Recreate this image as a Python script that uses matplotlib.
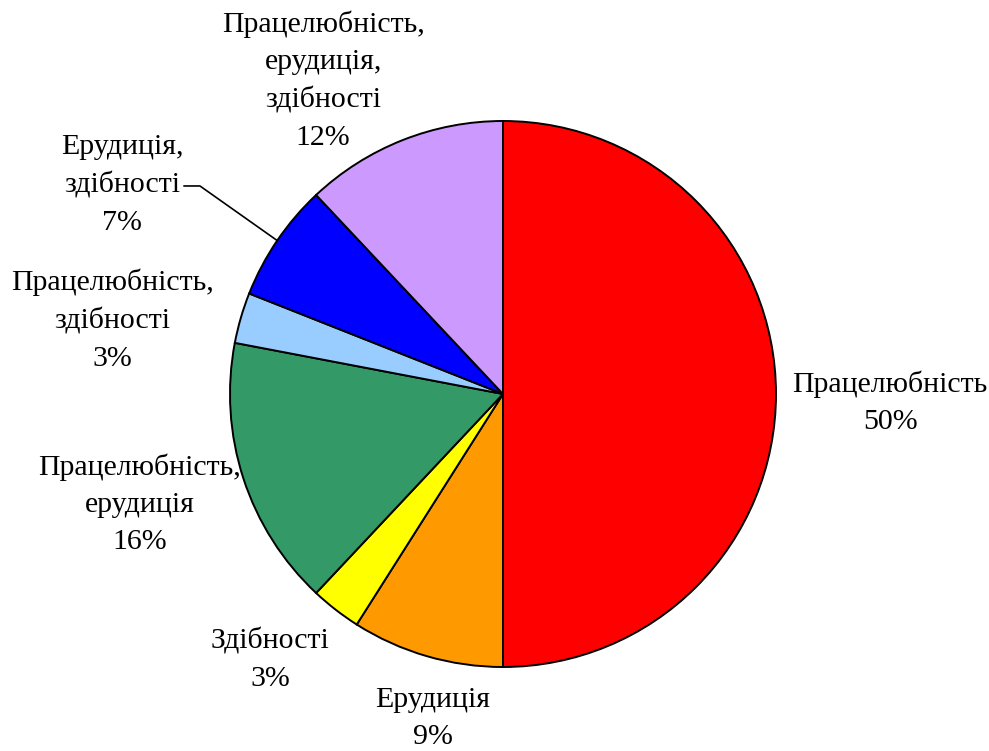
import numpy as np
import matplotlib.pyplot as plt

plt.rcParams['font.family'] = ['Liberation Serif', 'DejaVu Serif']

# Slices, clockwise from 12 o'clock
labels = ['Працелюбність', 'Ерудиція', 'Здібності', 'Працелюбність,\nерудиція',
          'Працелюбність,\nздібності', 'Ерудиція,\nздібності',
          'Працелюбність,\nерудиція,\nздібності']
values = [50, 9, 3, 16, 3, 7, 12]
colors = ['#FF0000', '#FF9900', '#FFFF00', '#339966', '#99CCFF', '#0000FF', '#CC99FF']

# label centres (x, y) in units of pie radius
label_pos = [(1.418, -0.033), (-0.256, -1.19), (-0.853, -0.974), (-1.33, -0.403),
             (-1.432, 0.27), (-1.396, 0.766), (-0.659, 1.147)]

W, H = 989, 751
cx, cy, r = 503, 394, 273

fig = plt.figure(figsize=(W / 100, H / 100), dpi=100)
ax = fig.add_axes([0, 0, 1, 1])

wedges, _ = ax.pie(values, colors=colors, startangle=90, counterclock=False,
                   radius=1, wedgeprops=dict(edgecolor='black', linewidth=1.4))

ax.set_xlim(-cx / r, (W - cx) / r)
ax.set_ylim(-(H - cy) / r, cy / r)
ax.set_aspect('equal')
ax.axis('off')

for i, (lab, v) in enumerate(zip(labels, values)):
    x, y = label_pos[i]
    ax.text(x, y, f'{lab}\n{v}%', ha='center', va='center', fontsize=21.5,
            linespacing=1.55)

# leader line for the small blue slice
w = wedges[5]
ang = np.deg2rad((w.theta1 + w.theta2) / 2)
ex, ey = np.cos(ang), np.sin(ang)
ax.plot([-1.168, -1.11, ex], [0.762, 0.762, ey], color='black', lw=1.2)

fig.savefig('out.png', dpi=100)
